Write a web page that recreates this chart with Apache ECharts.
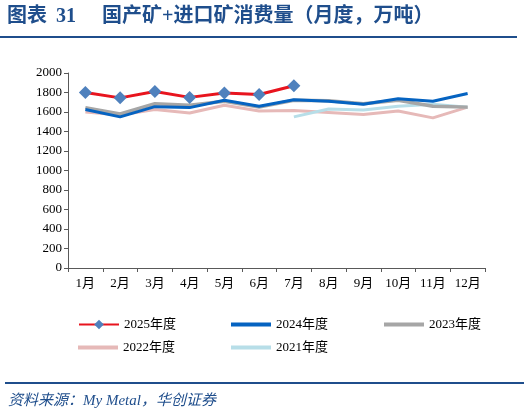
<!DOCTYPE html>
<html>
<head>
<meta charset="utf-8">
<script src="https://cdn.jsdelivr.net/npm/echarts@6/dist/echarts.min.js"></script>
<style>
  html, body { margin: 0; padding: 0; background: #fff; }
  #main { width: 524px; height: 420px; }
</style>
</head>
<body>
<div id="main"></div>
<script>
// 月份
var months = ['1月', '2月', '3月', '4月', '5月', '6月', '7月', '8月', '9月', '10月', '11月', '12月'];
// 各年度消费量（万吨）
var y2025 = [1800, 1745, 1810, 1750, 1795, 1780, 1870, null, null, null, null, null];
var y2024 = [1625, 1550, 1655, 1645, 1720, 1660, 1725, 1710, 1680, 1735, 1710, 1790];
var y2023 = [1645, 1580, 1685, 1670, 1710, 1650, 1720, 1715, 1685, 1720, 1660, 1650];
var y2022 = [1600, 1570, 1625, 1590, 1670, 1610, 1615, 1595, 1575, 1610, 1540, 1650];
var y2021 = [null, null, null, null, null, null, 1550, 1630, 1620, 1660, 1680, 1650];
var yTicks = { min: 0, max: 2000, interval: 200 };

var serif = '"Liberation Serif", "Noto Sans CJK SC", serif';
var navy = '#1F4E8C';

// 每个图例单独摆放，模仿原图的两行三列
function legendAt(name, left, top, plain) {
  return {
    data: [plain ? { name: name, icon: 'rect' } : name],
    left: left,
    top: top,
    padding: 0,
    itemWidth: 40,
    itemHeight: plain ? 4 : 12,
    textStyle: { fontFamily: serif, fontSize: 13, color: '#000' }
  };
}

function lineSeries(name, data, color, width, z) {
  return {
    name: name,
    type: 'line',
    data: data,
    symbol: 'none',
    z: z,
    lineStyle: { color: color, width: width },
    itemStyle: { color: color },
    emphasis: { disabled: true }
  };
}

var chart = echarts.init(document.getElementById('main'));

chart.setOption({
  animation: false,
  backgroundColor: '#fff',
  grid: { left: 68, right: 39, top: 73, bottom: 152 },
  graphic: [
    { type: 'text', left: 7, top: 7, style: { text: '图表', font: 'bold 20px ' + serif, fill: navy } },
    { type: 'text', left: 56, top: 7, style: { text: '31', font: 'bold 20px ' + serif, fill: navy } },
    { type: 'text', left: 102, top: 7, style: { text: '国产矿+进口矿消费量（月度，万吨）', font: 'bold 20px ' + serif, fill: navy } },
    { type: 'rect', shape: { x: 0, y: 36, width: 517, height: 2 }, style: { fill: navy } },
    { type: 'rect', shape: { x: 5, y: 382, width: 519, height: 2 }, style: { fill: navy } },
    {
      type: 'text', left: 8, top: 394,
      style: {
        text: '资料来源：My Metal，华创证券',
        fontFamily: serif, fontSize: 15, fontStyle: 'italic', fill: navy
      }
    }
  ],
  legend: [
    legendAt('2025年度', 78, 318, false),
    legendAt('2024年度', 231, 318, true),
    legendAt('2023年度', 384, 318, true),
    legendAt('2022年度', 78, 341, true),
    legendAt('2021年度', 231, 341, true)
  ],
  xAxis: {
    type: 'category',
    data: months,
    boundaryGap: true,
    axisLine: { lineStyle: { color: '#595959', width: 1 } },
    axisTick: { show: true, length: 4, lineStyle: { color: '#595959' } },
    axisLabel: { fontFamily: serif, fontSize: 13, color: '#000', margin: 9 }
  },
  yAxis: {
    type: 'value',
    min: yTicks.min,
    max: yTicks.max,
    interval: yTicks.interval,
    axisLine: { show: true, lineStyle: { color: '#595959', width: 1 } },
    axisTick: { show: true, length: 4, lineStyle: { color: '#595959' } },
    splitLine: { show: false },
    axisLabel: {
      fontFamily: serif, fontSize: 13, color: '#000', margin: 6,
      formatter: function (v) { return String(v); }
    }
  },
  series: [
    lineSeries('2022年度', y2022, '#E6B9B8', 3, 2),
    lineSeries('2021年度', y2021, '#B7DEE8', 3, 3),
    lineSeries('2023年度', y2023, '#A6A6A6', 3.5, 4),
    lineSeries('2024年度', y2024, '#0563C1', 3, 5),
    {
      name: '2025年度',
      type: 'line',
      data: y2025,
      symbol: 'diamond',
      symbolSize: 13,
      z: 10,
      lineStyle: { color: '#E8141E', width: 3 },
      itemStyle: { color: '#4F81BD' },
      emphasis: { disabled: true }
    }
  ]
});
</script>
</body>
</html>
